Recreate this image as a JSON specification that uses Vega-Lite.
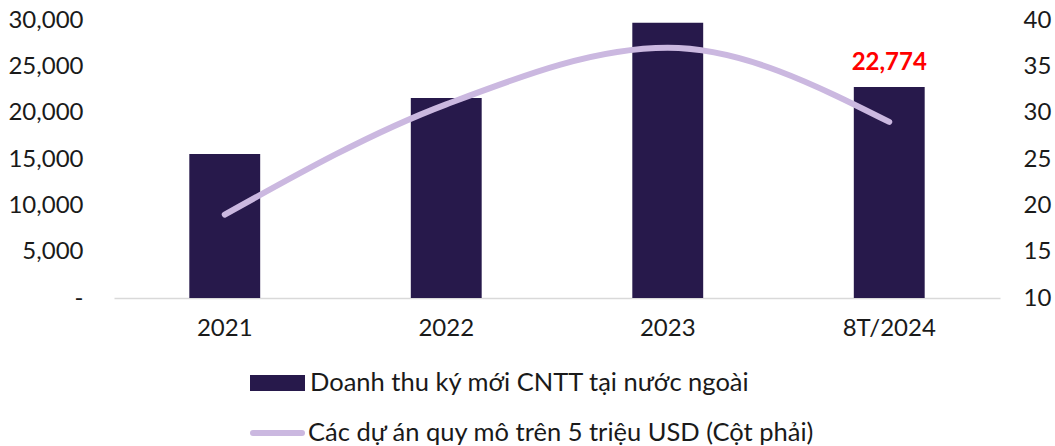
{
  "$schema": "https://vega.github.io/schema/vega-lite/v6.json",
  "width": 886,
  "height": 278,
  "autosize": "none",
  "padding": {"left": 114, "top": 20, "right": 55, "bottom": 148},
  "background": "white",
  "config": {
    "view": {"stroke": null},
    "font": "Lato",
    "axis": {"labelFont": "Lato", "labelFontSize": 24, "labelColor": "#1a1a1a", "grid": false, "ticks": false, "title": null},
    "legend": {"labelFont": "Lato", "labelFontSize": 25.5, "labelColor": "#1a1a1a", "padding": 0, "labelOffset": 5, "labelLimit": 0, "title": null}
  },
  "data": {
    "values": [
      {"year": "2021", "revenue": 15540, "projects": 19},
      {"year": "2022", "revenue": 21580, "projects": 30.9},
      {"year": "2023", "revenue": 29700, "projects": 37},
      {"year": "8T/2024", "revenue": 22774, "projects": 29}
    ]
  },
  "encoding": {
    "x": {
      "field": "year",
      "type": "nominal",
      "sort": null,
      "scale": {"paddingInner": 0.68, "paddingOuter": 0.34},
      "axis": {"labelAngle": 0, "domainColor": "#d9d9d9", "domainWidth": 1.5, "labelPadding": 18}
    }
  },
  "layer": [
    {
      "layer": [
        {
          "mark": {"type": "bar", "color": "#27194b"},
          "encoding": {
            "y": {
              "field": "revenue",
              "type": "quantitative",
              "scale": {"domain": [0, 30000]},
              "axis": {
                "values": [0, 5000, 10000, 15000, 20000, 25000, 30000],
                "format": ",.0f",
                "domain": false,
                "labelPadding": 31,
                "labelExpr": "datum.value == 0 ? '-' : datum.label",
                "encode": {"labels": {"update": {"dx": {"signal": "datum.value == 0 ? -13 : 0"}}}}
              }
            },
            "color": {
              "datum": "Doanh thu ký mới CNTT tại nước ngoài",
              "scale": {"range": ["#27194b"]},
              "legend": {
                "orient": "none",
                "legendX": 136,
                "legendY": 335.5,
                "symbolType": "M-1,-0.29H1V0.29H-1Z",
                "symbolSize": 3025,
                "symbolStrokeWidth": 0
              }
            }
          }
        },
        {
          "transform": [{"filter": "datum.year == '8T/2024'"}],
          "mark": {"type": "text", "color": "#ff0000", "fontSize": 24, "fontWeight": "bold", "font": "Lato", "baseline": "alphabetic", "dy": -17},
          "encoding": {
            "y": {"field": "revenue", "type": "quantitative"},
            "text": {"field": "revenue", "type": "quantitative", "format": ",.0f"}
          }
        }
      ]
    },
    {
      "mark": {"type": "line", "strokeWidth": 6, "strokeCap": "round", "interpolate": "monotone"},
      "encoding": {
        "y": {
          "field": "projects",
          "type": "quantitative",
          "scale": {"domain": [10, 40]},
          "axis": {"orient": "right", "values": [10, 15, 20, 25, 30, 35, 40], "domain": false, "labelPadding": 23}
        },
        "stroke": {
          "datum": "Các dự án quy mô trên 5 triệu USD (Cột phải)",
          "scale": {"range": ["#cbb8e0"]},
          "legend": {
            "orient": "none",
            "legendX": 136,
            "legendY": 385.5,
            "symbolType": "stroke",
            "symbolSize": 2401,
            "symbolStrokeWidth": 6,
            "labelOffset": 3,
            "encode": {"symbols": {"update": {"strokeCap": {"value": "round"}}}}
          }
        }
      }
    }
  ],
  "resolve": {"scale": {"y": "independent"}}
}
